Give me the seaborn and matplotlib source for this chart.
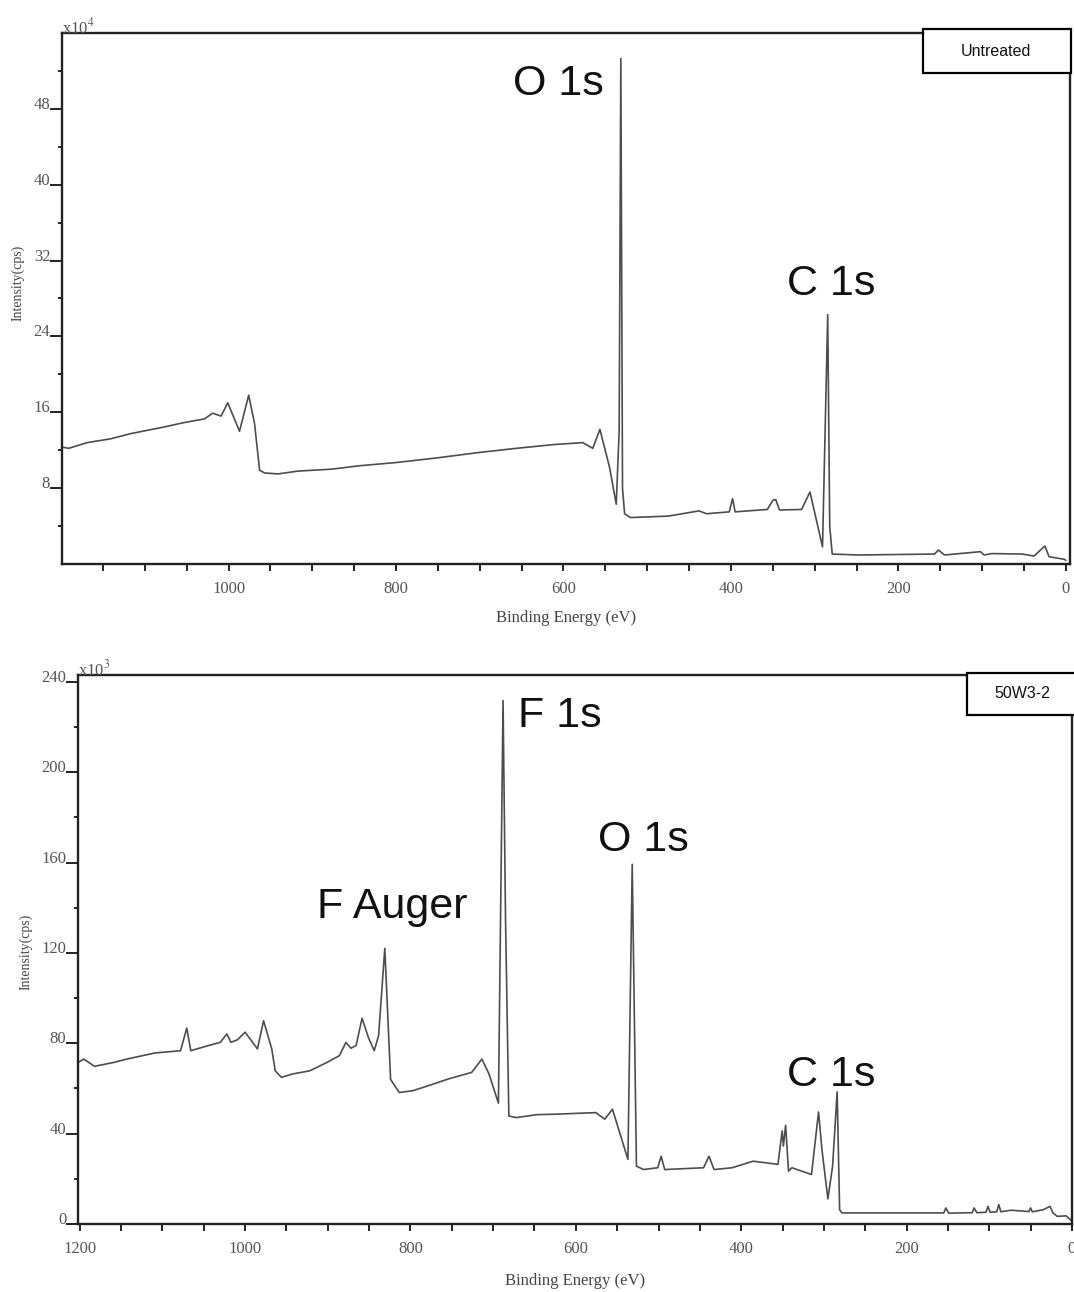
import matplotlib
matplotlib.use("Agg")
import matplotlib.pyplot as plt
import seaborn as sns
from matplotlib.ticker import MultipleLocator, FixedLocator
from matplotlib.patches import Rectangle

# ---------------- data ----------------
# Untreated sample, intensity in units of 1e4 cps
top_energy = [1200, 1191, 1169, 1141, 1117, 1097, 1077, 1054, 1029, 1019,
              1009, 1001, 987, 976, 969, 963, 957, 941, 917, 877,
              845, 800, 750, 702, 656, 611, 577, 565, 556.5, 545,
              537, 533.5, 531.5, 529.5, 527, 520, 475, 438, 429, 402,
              398, 395, 356.5, 350, 346.5, 342, 315.6, 305.6, 290.6,
              284.4, 282, 279, 248, 157, 152, 145, 102, 97.6, 88.6,
              52, 38, 25, 20, 2, 0]
top_counts = [12.35, 12.2, 12.8, 13.2, 13.75, 14.1, 14.45, 14.9, 15.3, 15.9,
              15.6, 17.0, 14.0, 17.8, 14.8, 9.9, 9.6, 9.5, 9.8, 10.0,
              10.35, 10.7, 11.2, 11.75, 12.2, 12.6, 12.8, 12.2, 14.2, 10.2,
              6.3, 14.0, 53.3, 8.0, 5.3, 4.9, 5.05, 5.6, 5.3, 5.5,
              6.9, 5.5, 5.75, 6.7, 6.8, 5.7, 5.75, 7.6, 1.8,
              26.3, 4.0, 1.05, 0.95, 1.05, 1.47, 0.95, 1.3, 0.95, 1.1,
              1.05, 0.84, 1.9, 0.77, 0.5, 0.4]

# 50W3-2 sample, intensity in units of 1e3 cps
bot_energy = [1202, 1195, 1182, 1159, 1143, 1109, 1078, 1070.5, 1065.6, 1047,
              1030, 1022, 1017, 1009, 1000, 985, 977.6, 967.7, 963.5, 956,
              942.7, 921.8, 901, 886, 878, 872, 865.7, 858.5, 851, 843.8,
              838.5, 831, 824, 813.6, 797, 776, 755, 726, 713.6, 705,
              693.6, 688, 685, 681, 672, 647, 625, 575.8, 565, 555.7,
              537, 531.8, 526.7, 518, 501, 496.8, 492.5, 445.5, 439, 432.8,
              411, 385.6, 355.6, 350.5, 349, 346.3, 342.8, 338.7, 315, 306.5,
              302.4, 295.2, 289.5, 284, 281, 278, 240, 155, 152.6, 149,
              120.6, 118.5, 115, 104, 101.6, 99, 91, 88.6, 86, 73.7,
              52, 50, 48, 35, 26.6, 23, 18, 7, 0]
bot_counts = [71.5, 73, 69.8, 71.5, 73, 75.7, 76.7, 86.7, 76.7, 78.7,
              80.4, 84.1, 80.4, 81.6, 84.9, 77.5, 90, 77.5, 67.8, 64.9,
              66.4, 67.8, 71.5, 74.5, 80.4, 77.8, 79, 91.1, 82.7, 76.7,
              83.4, 122, 64, 58.2, 59, 61.5, 64.1, 67.1, 73, 66.4,
              53.5, 231.7, 135, 47.8, 47.1, 48.4, 48.6, 49.3, 46.4, 50.8,
              28.6, 159.2, 25.6, 24.1, 24.9, 30, 24.1, 24.9, 30, 24.1,
              24.9, 27.8, 26.4, 41.2, 34.5, 43.7, 23.4, 24.9, 21.9, 49.6,
              33, 11.1, 25.6, 58.5, 6.3, 4.9, 4.9, 4.9, 7.1, 4.8,
              5.0, 7.1, 5.0, 5.2, 7.8, 5.2, 5.4, 8.6, 5.4, 6.1,
              5.5, 7.1, 5.4, 6.3, 7.8, 4.9, 3.4, 3.6, 1.2]

top_xticks = [1000, 800, 600, 400, 200, 0]
bot_xticks = [1200, 1000, 800, 600, 400, 200, 0]
top_yticks = [8, 16, 24, 32, 40, 48]
bot_yticks = [0, 40, 80, 120, 160, 200, 240]

top_peaks = [("O 1s", 558, 95), ("C 1s", 831, 295)]
bot_peaks = [("F 1s", 559.5, 727), ("O 1s", 643.7, 851),
             ("F Auger", 392, 918), ("C 1s", 831, 1086)]

# ---------------- figure ----------------
sns.set_theme(style="ticks")
plt.rcParams["font.family"] = ["Liberation Serif", "DejaVu Serif"]
plt.rcParams["mathtext.fontset"] = "stix"

W, H = 1074, 1292
fig = plt.figure(figsize=(W / 100, H / 100), dpi=100)
fig.patch.set_facecolor("white")


def fx(x):
    return x / W


def fy(y):
    return 1 - y / H


ax1 = fig.add_axes([fx(62), fy(564), (1070 - 62) / W, (564 - 33) / H])
ax2 = fig.add_axes([fx(78), fy(1224), (1072 - 78) / W, (1224 - 675) / H])

LINE = "#4d4d4d"
sns.lineplot(x=top_energy, y=top_counts, ax=ax1, sort=False, estimator=None,
             color=LINE, lw=1.2)
sns.lineplot(x=bot_energy, y=bot_counts, ax=ax2, sort=False, estimator=None,
             color=LINE, lw=1.2)

ax1.set_xlim(1199, -5)
ax1.set_ylim(0, 56)
ax2.set_xlim(1202, 0)
ax2.set_ylim(0, 243)

ax1.xaxis.set_major_locator(FixedLocator(top_xticks))
ax2.xaxis.set_major_locator(FixedLocator(bot_xticks))
ax1.yaxis.set_major_locator(FixedLocator(top_yticks))
ax2.yaxis.set_major_locator(FixedLocator(bot_yticks))
ax1.yaxis.set_minor_locator(FixedLocator([4, 12, 20, 28, 36, 44, 52]))
ax2.yaxis.set_minor_locator(MultipleLocator(20))
for ax in (ax1, ax2):
    ax.xaxis.set_minor_locator(MultipleLocator(50))

for ax in (ax1, ax2):
    ax.set_facecolor("white")
    ax.grid(False)
    for s in ax.spines.values():
        s.set_visible(True)
        s.set_color("#222222")
        s.set_linewidth(1.7)
    ax.tick_params(which="both", direction="out", colors="#222222",
                   labelcolor="#555555", labelsize=12,
                   bottom=True, left=True, top=False, right=False)
    ax.tick_params(axis="x", which="both", length=5, width=1.4, pad=7)
    ax.tick_params(axis="y", which="major", length=8.5, width=1.4, pad=0)
    ax.tick_params(axis="y", which="minor", length=3.2, width=1.4)
    ax.set_xlabel("Binding Energy (eV)", fontsize=12, color="#444444")
    ax.set_ylabel("Intensity(cps)", fontsize=10, color="#444444", va="center")
    for lbl in ax.get_yticklabels():
        lbl.set_verticalalignment("baseline")

ax1.xaxis.set_label_coords(0.5, -0.087)
ax2.xaxis.set_label_coords(0.5, -0.089)
ax1.yaxis.set_label_coords(-0.0437, 0.529)
ax2.yaxis.set_label_coords(-0.053, 0.495)

ax1.text(0.0, 1.0, r"x10$^{4}$", transform=ax1.transAxes, ha="left",
         va="baseline", fontsize=12, color="#555555")
ax2.text(0.0, 1.0, r"x10$^{3}$", transform=ax2.transAxes, ha="left",
         va="baseline", fontsize=12, color="#555555")

for label, x, y in top_peaks + bot_peaks:
    fig.text(fx(x), fy(y), label, ha="center", va="baseline", fontsize=31,
             color="#111111", family=["Liberation Sans", "DejaVu Sans"])

# sample name boxes
for (x0, y0, x1, y1, tx, ty, name) in [(923, 29, 1071, 73, 996, 51, "Untreated"),
                                         (967, 673, 1085, 715, 1022, 694, "50W3-2")]:
    rect = Rectangle((fx(x0), fy(y1)), (x1 - x0) / W, (y1 - y0) / H,
                     transform=fig.transFigure, facecolor="white",
                     edgecolor="black", lw=1.6, zorder=10)
    fig.add_artist(rect)
    fig.text(fx(tx), fy(ty), name, ha="center", va="center", fontsize=11.5,
             color="#111111", family=["Liberation Sans", "DejaVu Sans"], zorder=11)

fig.savefig("out.png", dpi=100, facecolor="white")
